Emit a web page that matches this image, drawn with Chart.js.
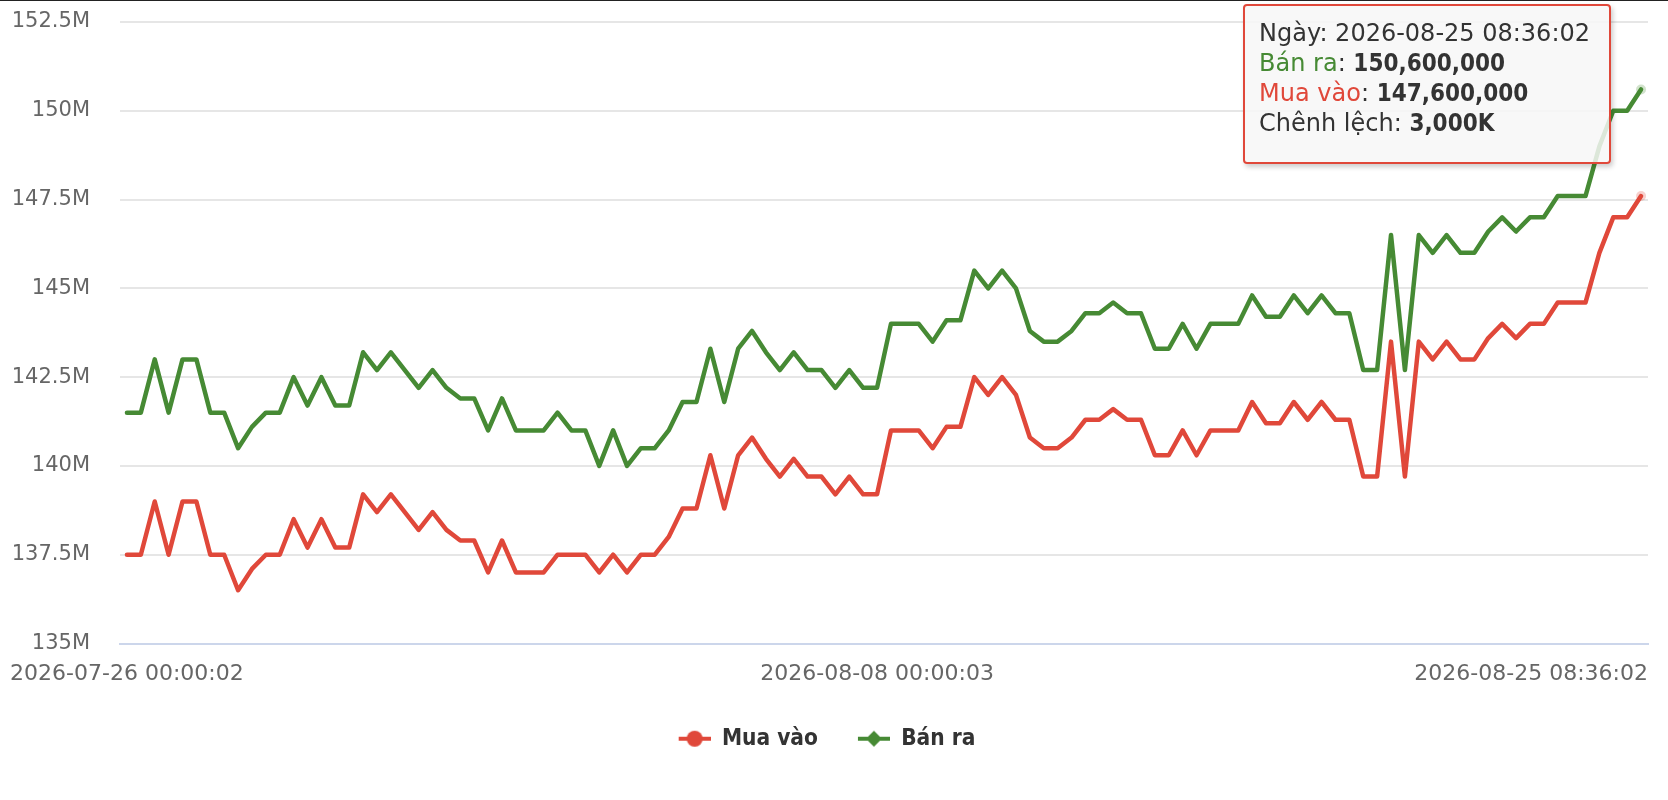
<!DOCTYPE html>
<html>
<head>
<meta charset="utf-8">
<script src="https://cdn.jsdelivr.net/npm/chart.js@4.4.1/dist/chart.umd.min.js"></script>
<style>
  html, body { margin: 0; padding: 0; background: #fff; }
  body { border-top: 1px solid #222; }
  #wrap { position: relative; width: 1668px; height: 799px; }
  #tip {
    display: none; position: absolute; width: 368px; height: 160px; box-sizing: border-box;
    background: rgba(247, 247, 247, 0.85); border: 2px solid #e0483a; border-radius: 4px;
    box-shadow: 2px 3px 5px rgba(0, 0, 0, 0.2);
    padding: 12px 14px; font: 24px "DejaVu Sans", sans-serif; line-height: 30px; color: #333;
    white-space: nowrap; pointer-events: none;
  }
  #tip b { font-family: "DejaVu Sans Condensed", "DejaVu Sans", sans-serif; font-size: 24px; }
</style>
</head>
<body>
<div id="wrap">
  <canvas id="chart" width="1668" height="799"></canvas>
  <div id="tip"></div>
</div>
<script>
(() => {
    // giá vàng, đơn vị: triệu đồng
    const sellValues = [
        141.5, 141.5, 143.0, 141.5, 143.0, 143.0, 141.5, 141.5, 140.5, 141.1,
        141.5, 141.5, 142.5, 141.7, 142.5, 141.7, 141.7, 143.2, 142.7, 143.2,
        142.7, 142.2, 142.7, 142.2, 141.9, 141.9, 141.0, 141.9, 141.0, 141.0,
        141.0, 141.5, 141.0, 141.0, 140.0, 141.0, 140.0, 140.5, 140.5, 141.0,
        141.8, 141.8, 143.3, 141.8, 143.3, 143.8, 143.2, 142.7, 143.2, 142.7,
        142.7, 142.2, 142.7, 142.2, 142.2, 144.0, 144.0, 144.0, 143.5, 144.1,
        144.1, 145.5, 145.0, 145.5, 145.0, 143.8, 143.5, 143.5, 143.8, 144.3,
        144.3, 144.6, 144.3, 144.3, 143.3, 143.3, 144.0, 143.3, 144.0, 144.0,
        144.0, 144.8, 144.2, 144.2, 144.8, 144.3, 144.8, 144.3, 144.3, 142.7,
        142.7, 146.5, 142.7, 146.5, 146.0, 146.5, 146.0, 146.0, 146.6, 147.0,
        146.6, 147.0, 147.0, 147.6, 147.6, 147.6, 149.0, 150.0, 150.0, 150.6
    ];
    const buyValues = [
        137.5, 137.5, 139.0, 137.5, 139.0, 139.0, 137.5, 137.5, 136.5, 137.1,
        137.5, 137.5, 138.5, 137.7, 138.5, 137.7, 137.7, 139.2, 138.7, 139.2,
        138.7, 138.2, 138.7, 138.2, 137.9, 137.9, 137.0, 137.9, 137.0, 137.0,
        137.0, 137.5, 137.5, 137.5, 137.0, 137.5, 137.0, 137.5, 137.5, 138.0,
        138.8, 138.8, 140.3, 138.8, 140.3, 140.8, 140.2, 139.7, 140.2, 139.7,
        139.7, 139.2, 139.7, 139.2, 139.2, 141.0, 141.0, 141.0, 140.5, 141.1,
        141.1, 142.5, 142.0, 142.5, 142.0, 140.8, 140.5, 140.5, 140.8, 141.3,
        141.3, 141.6, 141.3, 141.3, 140.3, 140.3, 141.0, 140.3, 141.0, 141.0,
        141.0, 141.8, 141.2, 141.2, 141.8, 141.3, 141.8, 141.3, 141.3, 139.7,
        139.7, 143.5, 139.7, 143.5, 143.0, 143.5, 143.0, 143.0, 143.6, 144.0,
        143.6, 144.0, 144.0, 144.6, 144.6, 144.6, 146.0, 147.0, 147.0, 147.6
    ];
    const tickLabels = ["2026-07-26 00:00:02", "2026-08-08 00:00:03", "2026-08-25 08:36:02"];
    const tickIndexes = [0, 54, 109];
    const yMin = 135, yMax = 152.5, yStep = 2.5;

    const RED = "#e0483a";
    const GREEN = "#468a34";
    const REGULAR = "'DejaVu Sans', sans-serif";
    const BOLD = "'DejaVu Sans Condensed', 'DejaVu Sans', sans-serif";

    const $ = query => document.querySelector(query);
    const categories = sellValues.map((_, i) => tickLabels[tickIndexes.indexOf(i)] ?? "");
    const money = v => Math.round(v * 1e6).toLocaleString("en-US");

    // ký hiệu chú giải: khoảng trống bên trái + đoạn thẳng + điểm
    const legendSymbol = (color, shape) => {
        const c = document.createElement("canvas");
        c.width = 62; c.height = 18;
        const ctx = c.getContext("2d");
        ctx.strokeStyle = color; ctx.fillStyle = color; ctx.lineWidth = 4;
        ctx.beginPath(); ctx.moveTo(30, 9); ctx.lineTo(62, 9); ctx.stroke();
        ctx.beginPath();
        if (shape === "circle") ctx.arc(46, 9, 8, 0, Math.PI * 2);
        else { ctx.moveTo(46, 1); ctx.lineTo(54, 9); ctx.lineTo(46, 17); ctx.lineTo(38, 9); ctx.closePath(); }
        ctx.fill();
        return c;
    };
    const symbols = [legendSymbol(RED, "circle"), legendSymbol(GREEN, "diamond")];

    const tipHandler = ({ chart, tooltip }) => {
        const el = $("#tip");
        if (tooltip.opacity === 0 || !tooltip.dataPoints || !tooltip.dataPoints.length) {
            el.style.display = "none";
            return;
        }
        const i = tooltip.dataPoints[0].dataIndex;
        const diff = Math.round((sellValues[i] - buyValues[i]) * 1000).toLocaleString("en-US");
        el.innerHTML =
            `<div>Ngày: ${categories[i]}</div>` +
            `<div><span style="color:${GREEN}">Bán ra</span>: <b>${money(sellValues[i])}</b></div>` +
            `<div><span style="color:${RED}">Mua vào</span>: <b>${money(buyValues[i])}</b></div>` +
            `<div>Chênh lệch: <b>${diff}K</b></div>`;
        const pt = chart.getDatasetMeta(1).data[i];
        el.style.left = (pt.x - 398) + "px";
        el.style.top = "3px";
        el.style.display = "block";
    };

    // nhãn cuối cùng căn phải sát mép biểu đồ, chú giải lệch trái một chút
    const edgeLabel = {
        id: "edgeLabel",
        afterLayout(chart) {
            chart.legend.left -= 12;
            chart.legend.right -= 12;
        },
        beforeDraw(chart) {
            const scale = chart.scales.x;
            const items = scale.getLabelItems();
            const last = items[items.length - 1];
            last.options.textAlign = "right";
            last.options.translation[0] = scale.right;
        }
    };

    const chart = new Chart($("#chart"), {
        type: "line",
        data: {
            labels: categories,
            datasets: [{
                label: "Mua vào",
                data: buyValues,
                borderColor: RED,
                backgroundColor: RED,
                pointHoverBackgroundColor: "rgba(224, 72, 58, 0.25)"
            }, {
                label: "Bán ra",
                data: sellValues,
                borderColor: GREEN,
                backgroundColor: GREEN,
                pointHoverBackgroundColor: "rgba(70, 138, 52, 0.25)"
            }]
        },
        options: {
            responsive: false,
            devicePixelRatio: 1,
            animation: false,
            layout: { padding: { top: 21, right: 20, bottom: 40, left: 0 } },
            elements: {
                line: { borderWidth: 4.5, tension: 0, borderCapStyle: "round", borderJoinStyle: "round" },
                point: { radius: 0, hoverRadius: 5, hoverBorderWidth: 0 }
            },
            interaction: { mode: "index", intersect: false },
            scales: {
                x: {
                    offset: true,
                    grid: { display: false, drawTicks: false },
                    border: { display: true, color: "#ccd6eb", width: 2 },
                    ticks: {
                        autoSkip: false,
                        maxRotation: 0,
                        padding: 18,
                        color: "#666",
                        font: { family: REGULAR, size: 22 }
                    },
                    afterBuildTicks: scale => {
                        scale.ticks = tickIndexes.map(value => ({ value }));
                    },
                    afterFit: scale => {
                        scale.paddingLeft = 0;
                        scale.paddingRight = 0;
                        scale.height = 74;
                    }
                },
                y: {
                    min: yMin,
                    max: yMax,
                    border: { display: false },
                    grid: {
                        drawTicks: false,
                        lineWidth: 2,
                        color: ctx => ctx.tick && ctx.tick.value === yMin ? "#ccd6eb" : "#e6e6e6"
                    },
                    ticks: {
                        stepSize: yStep,
                        padding: 30,
                        color: "#666",
                        font: { family: REGULAR, size: 21 },
                        callback: value => value + "M"
                    },
                    afterFit: scale => {
                        scale.width = 120;
                        scale.paddingTop = 0;
                        scale.paddingBottom = 0;
                    }
                }
            },
            plugins: {
                legend: {
                    position: "bottom",
                    labels: {
                        usePointStyle: true,
                        pointStyleWidth: 62,
                        padding: 10,
                        color: "#333",
                        font: { family: BOLD, size: 22.5, weight: "bold" },
                        generateLabels: chart =>
                            Chart.defaults.plugins.legend.labels.generateLabels(chart)
                                .map((item, i) => ({ ...item, pointStyle: symbols[i] }))
                    }
                },
                tooltip: { enabled: false, external: tipHandler }
            }
        },
        plugins: [edgeLabel]
    });

    const last = sellValues.length - 1;
    const active = [{ datasetIndex: 1, index: last }, { datasetIndex: 0, index: last }];
    chart.setActiveElements(active);
    const p = chart.getDatasetMeta(1).data[last];
    chart.tooltip.setActiveElements(active, { x: p.x, y: p.y });
    chart.update();
})();
</script>
</body>
</html>
